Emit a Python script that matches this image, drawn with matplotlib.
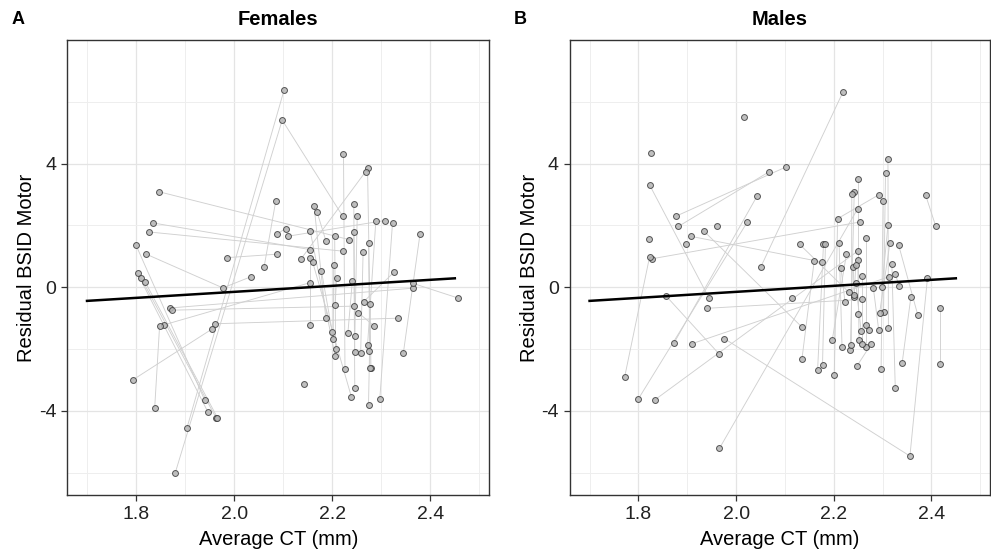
import numpy as np
import matplotlib
matplotlib.use("Agg")
import matplotlib.pyplot as plt

plt.rcParams["font.family"] = ["Liberation Sans", "DejaVu Sans"]
plt.rcParams["axes.unicode_minus"] = False

# females: subject id, average cortical thickness, residual BSID motor score
f_id = [1, 1, 1, 2, 2, 3, 3, 4, 4, 5, 5, 6, 6, 7, 7, 8, 8, 9, 9, 10, 10, 10,
        11, 11, 12, 12, 13, 13, 14, 14, 15, 15, 16, 16, 17, 17, 18, 18, 19, 19,
        20, 20, 21, 21, 22, 22, 23, 23, 24, 24, 25, 25, 26, 26, 27, 27, 28, 28,
        29, 29, 30, 30, 31, 31, 32, 32, 33, 33, 34, 34, 35, 35, 36, 36, 37, 37,
        38, 38, 39, 39, 40, 40, 41, 41, 42, 42, 43, 43, 44, 44, 45, 45, 46, 47]
f_ct = [1.880, 2.098, 2.221, 1.904, 2.102, 1.847, 2.235, 1.835, 2.155, 1.826, 2.221,
        1.800, 1.940, 1.803, 1.947, 1.810, 1.963, 1.819, 1.966, 1.821, 1.977, 2.034,
        2.061, 2.085, 1.986, 2.087, 2.087, 2.105, 2.223, 2.226, 2.272, 2.279,
        2.268, 2.137, 2.163, 2.187, 2.169, 2.187, 2.244, 2.246, 2.251, 2.246,
        2.289, 2.272, 2.307, 2.109, 2.323, 2.297, 2.379, 2.345, 2.155, 2.206,
        2.244, 2.246, 2.205, 2.207, 2.274, 2.277, 2.263, 2.258, 2.155, 2.155,
        2.160, 2.239, 2.203, 2.202, 2.178, 2.200, 2.209, 2.206, 2.241, 2.232,
        2.155, 1.856, 2.326, 2.264, 1.869, 2.364, 1.874, 2.244, 1.848, 1.838,
        1.961, 2.334, 1.954, 1.794, 2.457, 2.364, 2.278, 2.274, 2.253, 2.286,
        2.276, 2.143]
f_res = [-6.00, 5.41, 2.31, -4.54, 6.39, 3.09, 1.54, 2.08, 1.22, 1.79, 1.17,
         1.36, -3.65, 0.45, -4.05, 0.31, -4.22, 0.16, -4.22, 1.07, -0.02, 0.34,
         0.65, 2.80, 0.96, 1.07, 1.72, 1.90, 4.32, -2.63, 3.86, -2.60,
         3.74, 0.93, 2.63, -1.00, 2.44, 1.51, 2.71, -2.08, 2.31, -1.59,
         2.16, -1.88, 2.16, 1.65, 2.09, -3.61, 1.72, -2.13, 1.83, -2.23,
         1.79, -3.25, 1.65, -1.99, 1.43, -2.60, 1.14, -2.13, 0.96, -1.22,
         0.82, -3.54, 0.71, -1.68, 0.53, -1.44, 0.31, -0.56, 0.20, -1.47,
         0.15, -1.22, 0.49, -0.47, -0.67, -0.03, -0.74, -0.61, -1.25, -3.90,
         -1.18, -1.00, -1.36, -2.99, -0.35, 0.13, -0.53, -3.80, -0.82, -1.26,
         -2.05, -3.14]

# males
m_id = [1, 2, 3, 3, 4, 4, 5, 5, 6, 6, 7, 7, 8, 8, 9, 10, 10, 11, 11, 12, 13,
        14, 14, 15, 15, 16, 16, 17, 17, 18, 18, 19, 19, 19, 20, 20, 21, 21,
        22, 22, 23, 23, 24, 24, 25, 25, 26, 26, 27, 27, 27, 28, 28, 29, 29,
        30, 30, 31, 31, 32, 32, 33, 33, 34, 34, 35, 35, 36, 36, 37, 37, 38, 38,
        39, 39, 40, 40, 41, 41, 42, 42, 43, 43, 44, 44, 45, 45, 46, 46, 47, 47,
        48, 49, 49, 50, 50, 51, 51, 52, 52, 53, 53]
m_ct = [2.016, 1.825, 1.823, 1.945, 2.068, 1.882, 1.877, 2.102, 2.043, 1.873,
        2.023, 1.800, 1.934, 2.135, 1.822, 1.827, 2.253, 1.823, 1.772, 1.898,
        1.960, 1.907, 2.175, 2.219, 2.051, 1.856, 1.966, 1.941, 2.258, 1.909,
        2.313, 1.976, 2.356, 2.392, 1.833, 2.249, 1.966, 2.249, 2.311, 2.312,
        2.306, 2.302, 2.249, 2.249, 2.242, 2.234, 2.237, 2.236, 2.292, 2.208,
        2.201, 2.301, 2.297, 2.388, 2.409, 2.311, 2.299, 2.267, 2.267, 2.179,
        2.167, 2.183, 2.177, 2.211, 2.217, 2.315, 2.294, 2.333, 2.372, 2.226,
        2.197, 2.160, 2.135, 2.249, 2.252, 2.215, 2.223, 2.240, 2.242, 2.245,
        2.242, 2.319, 2.326, 2.258, 2.258, 2.326, 2.334, 2.245, 2.256, 2.281,
        2.292, 2.115, 2.231, 2.130, 2.358, 2.340, 2.417, 2.417, 2.267, 2.272,
        2.277, 2.247]
m_res = [5.52, 4.36, 3.31, -0.36, 3.74, 1.97, 2.30, 3.89, 2.95, -1.80,
         2.11, -3.61, 1.82, -1.29, 1.57, 0.92, 2.11, 0.99, -2.89, 1.39,
         1.97, 1.65, 0.82, 6.32, 0.67, -0.27, -2.17, -0.68, -0.39, -1.83,
         0.34, -1.66, -5.46, 0.31, -3.65, 1.17, -5.21, 2.54, 4.14, -1.33,
         3.71, -0.79, 3.49, -0.85, 3.09, -2.02, 3.02, -1.88, 2.99, 2.22,
         -2.85, 2.80, -2.63, 2.99, 1.97, 2.00, 0.02, 1.61, -1.94, 1.39,
         -2.67, 1.39, -2.52, 1.43, -1.94, 1.43, -0.82, 1.36, -0.89, 1.07,
         -1.70, 0.85, -2.31, 0.88, -1.70, 0.61, -0.47, 0.65, -0.31, 0.71,
         -0.24, 0.74, -3.25, 0.38, -1.83, 0.42, 0.05, 0.13, -1.40, -0.01,
         -1.37, -0.35, -0.16, 1.39, -0.31, -2.46, -0.68, -2.49, -1.22, -1.37,
         -1.83, -2.56]

# population-level fit (same in both panels)
fit_ct = [1.70, 2.45]
fit_res = [-0.44, 0.29]

panels = [("A", "Females", f_id, f_ct, f_res),
          ("B", "Males", m_id, m_ct, m_res)]

fig = plt.figure(figsize=(9.91, 5.57), dpi=100)
rects = [[0.0680, 0.1113, 0.4256, 0.8169], [0.5752, 0.1113, 0.4238, 0.8169]]

for rect, (tag, title, sid, ct, res) in zip(rects, panels):
    ax = fig.add_axes(rect)
    sid = np.array(sid)
    ct = np.array(ct)
    res = np.array(res)
    for s in np.unique(sid):
        m = sid == s
        ax.plot(ct[m], res[m], color="#d0d0d0", lw=0.65, zorder=2)
    ax.scatter(ct, res, s=18, facecolor="#b5b5b5", edgecolor="#3a3a3a",
               linewidth=0.7, alpha=0.85, zorder=3)
    ax.plot(fit_ct, fit_res, color="black", lw=1.8, zorder=4)

    ax.set_xlim(1.66, 2.52)
    ax.set_ylim(-6.72, 8.0)
    ax.set_xticks([1.8, 2.0, 2.2, 2.4])
    ax.set_xticklabels(["1.8", "2.0", "2.2", "2.4"])
    ax.set_yticks([-4, 0, 4])
    ax.set_xticks([1.7, 1.9, 2.1, 2.3, 2.5], minor=True)
    ax.set_yticks([-6, -2, 2, 6], minor=True)
    ax.grid(which="major", color="#e4e4e4", lw=0.9, zorder=0)
    ax.grid(which="minor", color="#eeeeee", lw=0.7, zorder=0)
    ax.set_axisbelow(True)
    ax.tick_params(which="major", length=4, width=0.9, color="#333333",
                   labelsize=14, labelcolor="#222222", pad=4)
    ax.tick_params(which="minor", length=0)
    for sp in ax.spines.values():
        sp.set_color("#333333")
        sp.set_linewidth(1.0)

    ax.set_xlabel("Average CT (mm)", fontsize=14.5, labelpad=5)
    ax.set_ylabel("Residual BSID Motor", fontsize=14.5, labelpad=2)
    ax.set_title(title, fontsize=14.5, fontweight="bold", pad=11)
    x0 = rect[0]
    fig.text(x0 - 0.05, 0.965, tag, fontsize=13, fontweight="bold",
             ha="center", va="center")

fig.savefig("out.png", dpi=100)
